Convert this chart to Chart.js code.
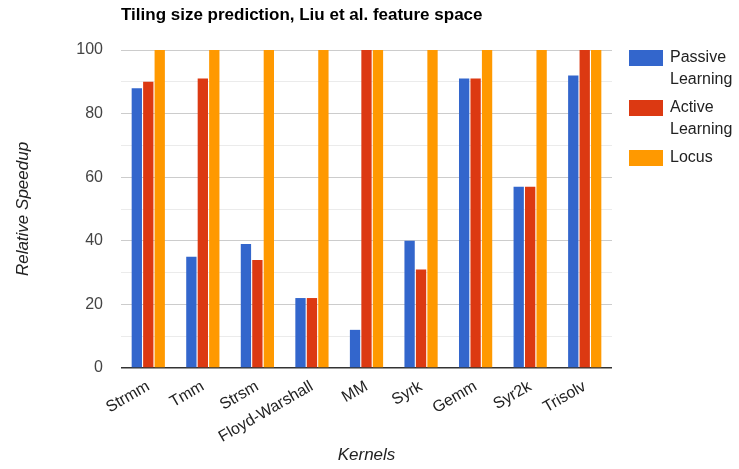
<!DOCTYPE html>
<html><head><meta charset="utf-8">
<script src="https://cdn.jsdelivr.net/npm/chart.js@4"></script>
<style>html,body{margin:0;padding:0;background:#fff}#wrap{width:739px;height:469px}</style>
</head><body><div id="wrap"><canvas id="c" width="739" height="469"></canvas></div>
<script>
const categories = ['Strmm','Tmm','Strsm','Floyd-Warshall','MM','Syrk','Gemm','Syr2k','Trisolv'];
const passive = [88, 35, 39, 22, 12, 40, 91, 57, 92];
const active  = [90, 91, 34, 22, 100, 31, 91, 57, 100];
const locus   = [100, 100, 100, 100, 100, 100, 100, 100, 100];
const seriesNames = ['Passive Learning','Active Learning','Locus'];
const seriesColors = ['#3366cc','#dc3912','#ff9900'];
const yTicks = [0, 20, 40, 60, 80, 100];
const titleText = 'Tiling size prediction, Liu et al. feature space';
const xTitle = 'Kernels';
const yTitle = 'Relative Speedup';
const FONT = 'Arial, "Liberation Sans", sans-serif';

const overlay = {
  id: 'overlay',
  afterDraw(chart) {
    const ctx = chart.ctx, a = chart.chartArea;
    ctx.save();
    ctx.fillStyle = '#000';
    ctx.font = 'bold 17px ' + FONT;
    ctx.textAlign = 'left'; ctx.textBaseline = 'middle';
    ctx.fillText(titleText, a.left, 15);
    ctx.fillStyle = '#222';
    ctx.font = 'italic 17px ' + FONT;
    ctx.textAlign = 'center';
    ctx.fillText(xTitle, (a.left + a.right) / 2, 455);
    ctx.save();
    ctx.translate(23, (a.top + a.bottom) / 2);
    ctx.rotate(-Math.PI / 2);
    ctx.fillText(yTitle, 0, 0);
    ctx.restore();
    // legend
    ctx.font = '16px ' + FONT;
    ctx.textAlign = 'left';
    let y = 50;
    chart.data.datasets.forEach((ds) => {
      ctx.fillStyle = ds.backgroundColor;
      ctx.fillRect(629, y, 34, 16);
      ctx.fillStyle = '#222';
      const lines = ds.label.split(' ');
      lines.forEach((ln, i) => ctx.fillText(ln, 670, y + 8 + i * 22));
      y += 50;
    });
    ctx.restore();
  }
};

new Chart(document.getElementById('c'), {
  type: 'bar',
  data: {
    labels: categories,
    datasets: [passive, active, locus].map((d, i) => ({
      label: seriesNames[i], data: d, backgroundColor: seriesColors[i],
      borderWidth: 0, categoryPercentage: 0.63, barPercentage: 0.9
    }))
  },
  options: {
    responsive: false, animation: false,
    layout: { padding: { top: 50, right: 127, left: 0, bottom: 0 } },
    plugins: { legend: { display: false }, title: { display: false }, tooltip: { enabled: false } },
    scales: {
      x: {
        grid: { display: false }, border: { display: false },
        ticks: { minRotation: 30, maxRotation: 30, color: '#222', font: { family: FONT, size: 16 }, padding: 1 },
        afterFit(s) { s.height = 101; }
      },
      y: {
        min: 0, max: 100,
        afterBuildTicks(s) { s.ticks = [0,10,20,30,40,50,60,70,80,90,100].map(v => ({ value: v })); },
        ticks: {
          color: '#444', font: { family: FONT, size: 16 }, padding: 18,
          callback: (v) => yTicks.includes(v) ? String(v) : ''
        },
        grid: {
          drawTicks: false,
          color: (c) => c.tick.value === 0 ? '#333' : (c.tick.value % 20 === 0 ? '#cccccc' : '#ebebeb'),
          lineWidth: (c) => c.tick.value === 0 ? 1.5 : 1
        },
        border: { display: false },
        afterFit(s) { s.width = 121; }
      }
    }
  },
  plugins: [overlay]
});
</script></body></html>
